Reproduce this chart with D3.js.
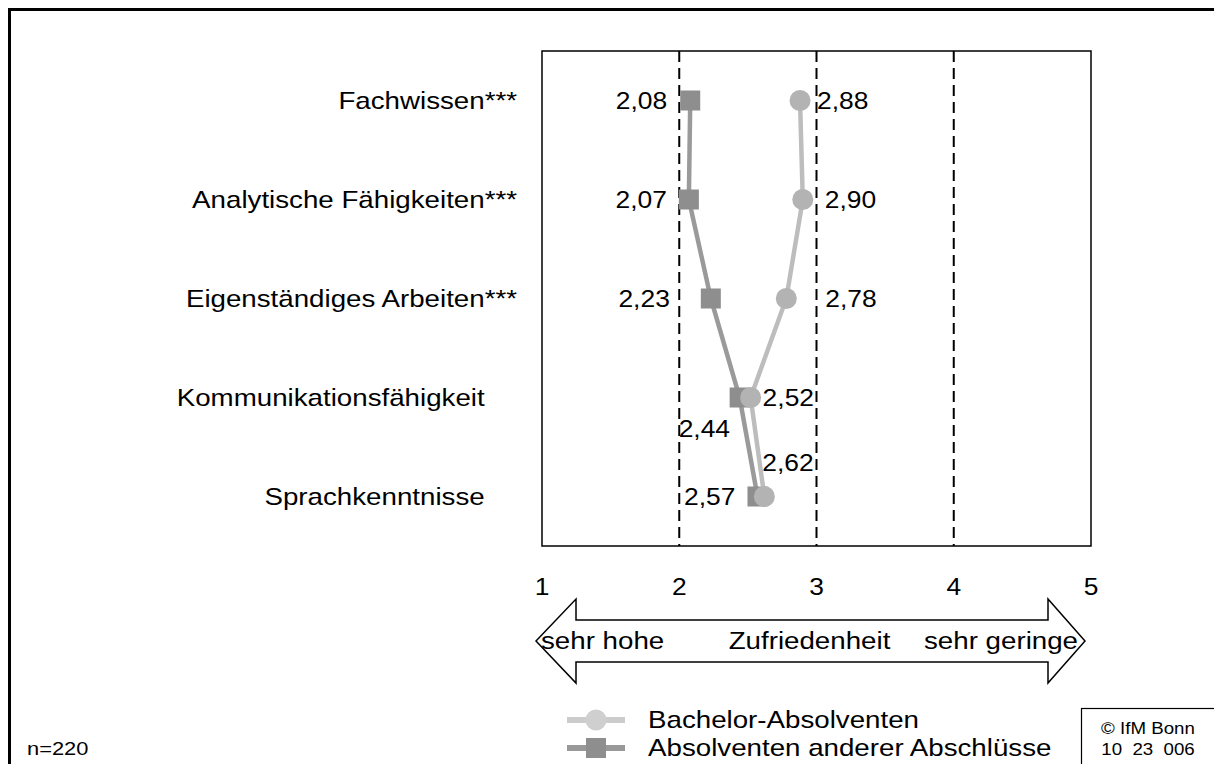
<!DOCTYPE html>
<html><head><meta charset="utf-8">
<script src="https://cdn.jsdelivr.net/npm/d3@7"></script>
<style>
html,body{margin:0;padding:0;background:#fff;}
svg text{font-family:"Liberation Sans",Arial,sans-serif;fill:#000;}
</style></head>
<body>
<svg id="c" width="1214" height="764"></svg>
<script>
// ---- data ----
const categories = ["Fachwissen","Analytische Fähigkeiten","Eigenständiges Arbeiten","Kommunikationsfähigkeit","Sprachkenntnisse"];
const significant = [true, true, true, false, false];
const bachelorValues = [2.88, 2.90, 2.78, 2.52, 2.62];
const otherValues = [2.08, 2.07, 2.23, 2.44, 2.57];
const xTicks = [1, 2, 3, 4, 5];
const gridValues = [2, 3, 4];
const seriesNames = ["Bachelor-Absolventen", "Absolventen anderer Abschlüsse"];
const scaleLabels = ["sehr hohe", "Zufriedenheit", "sehr geringe"];
const sampleNote = "n=220";
const sourceLines = ["© IfM Bonn", "10  23  006"];

// label placement (offsets relative to marker), kept apart from data
const bachelorLabelPos = [[17,0,"start"],[22,0,"start"],[39,0,"start"],[12,0,"start"],[-2,-34,"start"]];
const otherLabelPos = [[-23,0,"end"],[-22,0,"end"],[-41,0,"end"],[-61,31,"start"],[-22,0,"end"]];

const fmt = v => d3.format(".2f")(v).replace(".", ",");
const SX = 1.155;   // horizontal stretch of text in the reference
const FS = 24;

const svg = d3.select("#c");
function txt(g, px, py, s, size, anchor, sx){
  return g.append("text")
    .attr("transform", `translate(${px},${py}) scale(${sx||SX},1)`)
    .attr("font-size", size)
    .attr("text-anchor", anchor || "start")
    .attr("dominant-baseline", "central")
    .attr("xml:space", "preserve")
    .style("white-space", "pre")
    .text(s);
}

// outer frame
svg.append("rect").attr("x",9.5).attr("y",9.5).attr("width",1230).attr("height",780)
  .attr("fill","none").attr("stroke","#000").attr("stroke-width",3);

const x = d3.scaleLinear().domain([1,5]).range([542,1091]);
const plotTop = 51, plotBottom = 546;
const y = d3.scalePoint().domain(categories).range([plotTop,plotBottom]).padding(0.5);

// plot box
svg.append("rect").attr("x",x(1)).attr("y",plotTop).attr("width",x(5)-x(1)).attr("height",plotBottom-plotTop)
  .attr("fill","none").attr("stroke","#000").attr("stroke-width",1.5);

// dashed grid
svg.append("g").selectAll("line").data(gridValues).join("line")
  .attr("x1",d=>x(d)).attr("x2",d=>x(d)).attr("y1",plotTop).attr("y2",plotBottom)
  .attr("stroke","#000").attr("stroke-width",2).attr("stroke-dasharray","11,6");

// category labels
const catG = svg.append("g");
categories.forEach((c,i)=>{
  const t = catG.append("text")
    .attr("transform", `translate(517,${y(c)}) scale(${SX},1)`)
    .attr("font-size",FS).attr("text-anchor","end").attr("dominant-baseline","central");
  t.append("tspan").text(c);
  t.append("tspan").text("***").attr("fill-opacity", significant[i]?1:0);
});

// series
const line = d3.line().x(d=>x(d.v)).y(d=>y(d.c));
const otherData = categories.map((c,i)=>({c, v: otherValues[i]}));
const bachData = categories.map((c,i)=>({c, v: bachelorValues[i]}));

svg.append("path").datum(otherData).attr("d",line).attr("fill","none")
  .attr("stroke","#9a9a9a").attr("stroke-width",4.5);
svg.append("g").selectAll("rect").data(otherData).join("rect")
  .attr("x",d=>x(d.v)-10).attr("y",d=>y(d.c)-10).attr("width",20).attr("height",20)
  .attr("fill","#8e8e8e");

svg.append("path").datum(bachData).attr("d",line).attr("fill","none")
  .attr("stroke","#bdbdbd").attr("stroke-width",4.5);
svg.append("g").selectAll("circle").data(bachData).join("circle")
  .attr("cx",d=>x(d.v)).attr("cy",d=>y(d.c)).attr("r",10.5)
  .attr("fill","#b3b3b3");

// value labels
const lblG = svg.append("g");
otherData.forEach((d,i)=>{
  const p = otherLabelPos[i];
  txt(lblG, x(d.v)+p[0], y(d.c)+p[1], fmt(d.v), FS, p[2], 1.1);
});
bachData.forEach((d,i)=>{
  const p = bachelorLabelPos[i];
  txt(lblG, x(d.v)+p[0], y(d.c)+p[1], fmt(d.v), FS, p[2], 1.1);
});

// x tick labels
const axG = svg.append("g");
xTicks.forEach(t=> txt(axG, x(t), 586, String(t), FS, "middle", 1.1));

// double arrow
const ay = 641, hh = 42, sh = 21;
const lt = x(1)-6, lb = x(1)+34, rb = x(5)-43, rt = x(5)-6;
const pts = [[lt,ay],[lb,ay-hh],[lb,ay-sh],[rb,ay-sh],[rb,ay-hh],[rt,ay],[rb,ay+hh],[rb,ay+sh],[lb,ay+sh],[lb,ay+hh]];
svg.append("path").attr("d", d3.line()(pts)+"Z").attr("fill","#fff")
  .attr("stroke","#000").attr("stroke-width",1.5);
const axG2 = svg.append("g");
txt(axG2, x(1)-1, ay, scaleLabels[0], FS, "start");
txt(axG2, (x(1)+x(5))/2 - 7, ay, scaleLabels[1], FS, "middle");
txt(axG2, x(5)-13, ay, scaleLabels[2], FS, "end");

// legend
const leg = svg.append("g");
leg.append("line").attr("x1",567).attr("x2",625).attr("y1",720).attr("y2",720)
  .attr("stroke","#cccccc").attr("stroke-width",6);
leg.append("circle").attr("cx",596).attr("cy",720).attr("r",10.5).attr("fill","#cfcfcf");
leg.append("line").attr("x1",567).attr("x2",625).attr("y1",748).attr("y2",748)
  .attr("stroke","#999").attr("stroke-width",6);
leg.append("rect").attr("x",586).attr("y",738).attr("width",20).attr("height",20).attr("fill","#8e8e8e");
txt(leg, 648, 720, seriesNames[0], FS, "start");
txt(leg, 648, 748, seriesNames[1], FS, "start");

// note
txt(svg, 27, 748, sampleNote, 19, "start", 1.15);

// source box
svg.append("rect").attr("x",1081.5).attr("y",708.5).attr("width",140).attr("height",70)
  .attr("fill","#fff").attr("stroke","#000").attr("stroke-width",1.2);
const srcG = svg.append("g");
txt(srcG, 1148, 728, sourceLines[0], 17, "middle", 1.1);
txt(srcG, 1148, 749, sourceLines[1], 17, "middle", 1.1);
</script>
</body></html>
